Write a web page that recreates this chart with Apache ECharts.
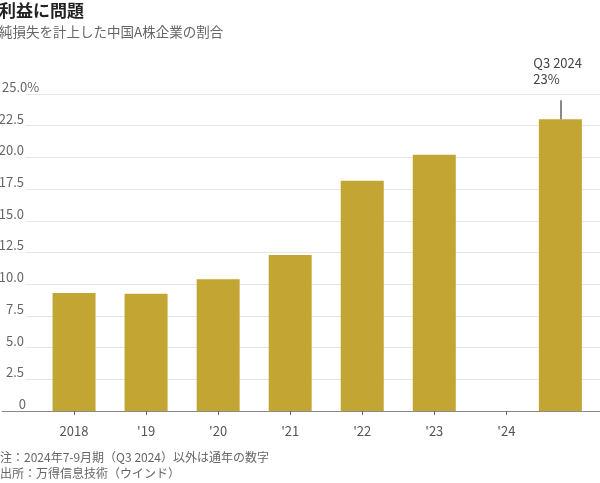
<!DOCTYPE html>
<html>
<head>
<meta charset="utf-8">
<script src="https://cdn.jsdelivr.net/npm/echarts@6/dist/echarts.min.js"></script>
<style>
html,body{margin:0;padding:0;background:#fff;}
#chart{width:600px;height:483px;}
</style>
</head>
<body>
<div id="chart"></div>
<script>
// Data
const years = [2018, 2019, 2020, 2021, 2022, 2023, 2024.75];
const shares = [9.3, 9.25, 10.4, 12.3, 18.15, 20.2, 23.0];
const tickYears = [2018, 2019, 2020, 2021, 2022, 2023, 2024];
const tickLabels = ['2018', "'19", "'20", "'21", "'22", "'23", "'24"];
const annotationText = ['Q3 2024', '23%'];
const annotationLineTop = 24.5;

const FONT = '"Noto Sans CJK JP", "Noto Sans", sans-serif';
const chart = echarts.init(document.getElementById('chart'), null, {renderer: 'canvas'});

const barData = years.map((y, i) => {
  const item = {value: [y, shares[i]]};
  if (i === years.length - 1) {
    item.label = {
      show: true,
      position: 'top',
      distance: 32,
      formatter: annotationText.map(t => '{a|' + t + '}').join('\n'),
      rich: {
        a: {fontFamily: FONT, fontSize: 13, color: '#444', lineHeight: 16, width: 54, align: 'left'}
      }
    };
  }
  return item;
});

const option = {
  animation: false,
  backgroundColor: '#fff',
  textStyle: {fontFamily: FONT},
  title: [
    {
      text: '利益に問題',
      subtext: '純損失を計上した中国A株企業の割合',
      left: -1, top: 0,
      padding: 0,
      itemGap: 2,
      textStyle: {fontFamily: FONT, fontSize: 17, fontWeight: 'bold', color: '#222', lineHeight: 22},
      subtextStyle: {fontFamily: FONT, fontSize: 13.5, color: '#666', lineHeight: 16}
    },
    {
      text: '注：2024年7-9月期（Q3 2024）以外は通年の数字\n出所：万得信息技術（ウインド）',
      left: 0, bottom: 2,
      padding: 0,
      textStyle: {fontFamily: FONT, fontSize: 12, fontWeight: 'normal', color: '#666', lineHeight: 16}
    }
  ],
  grid: {left: 2, right: 0, top: 94, bottom: 72, containLabel: false, outerBoundsMode: 'none'},
  xAxis: {
    type: 'value',
    min: 2017,
    max: 2025.3,
    axisLine: {show: true, onZero: true, lineStyle: {color: '#8a8a8a', width: 1}},
    axisTick: {show: true, length: 4, customValues: tickYears, lineStyle: {color: '#666'}},
    axisLabel: {
      show: true,
      customValues: tickYears,
      margin: 14,
      fontFamily: FONT,
      fontSize: 13,
      color: '#555',
      formatter: v => {
        const idx = tickYears.indexOf(Math.round(v));
        return idx >= 0 ? tickLabels[idx] : '';
      }
    },
    splitLine: {show: false}
  },
  yAxis: {
    type: 'value',
    min: 0,
    max: 25,
    interval: 2.5,
    axisLine: {show: false},
    axisTick: {show: false},
    splitLine: {show: true, lineStyle: {color: '#e6e6e6', width: 1}},
    axisLabel: {
      inside: true,
      margin: 0,
      align: 'left',
      verticalAlign: 'middle',
      formatter: v => {
        if (v === 0) return '{z|0}\n{e| }';
        const s = v.toFixed(1);
        if (v === 25) return '{m|' + s + '}{p|%}\n{b| }';
        return '{n|' + s + '}\n{b| }';
      },
      rich: {
        n: {fontFamily: FONT, fontSize: 13, color: '#666', width: 22, align: 'right', height: 14, lineHeight: 14, backgroundColor: '#fff', padding: [0, 2, 0, 0]},
        m: {fontFamily: FONT, fontSize: 13, color: '#666', height: 14, lineHeight: 14, backgroundColor: '#fff'},
        p: {fontFamily: FONT, fontSize: 13, color: '#666', height: 14, lineHeight: 14, backgroundColor: '#fff', padding: [0, 2, 0, 0]},
        z: {fontFamily: FONT, fontSize: 13, color: '#666', width: 22, align: 'right', height: 14, lineHeight: 14},
        b: {fontSize: 4, width: 24, height: 14, lineHeight: 14, backgroundColor: '#fff'},
        e: {fontSize: 4, width: 24, height: 14, lineHeight: 14}
      }
    }
  },
  series: [
    {
      type: 'bar',
      barWidth: 43,
      itemStyle: {color: '#c3a533'},
      data: barData,
      markLine: {
        silent: true,
        symbol: ['none', 'none'],
        label: {show: false},
        lineStyle: {color: '#888', width: 2, type: 'solid'},
        data: [[{coord: [years[years.length - 1], shares[shares.length - 1]]}, {coord: [years[years.length - 1], annotationLineTop]}]]
      }
    }
  ]
};
chart.setOption(option);
</script>
</body>
</html>
